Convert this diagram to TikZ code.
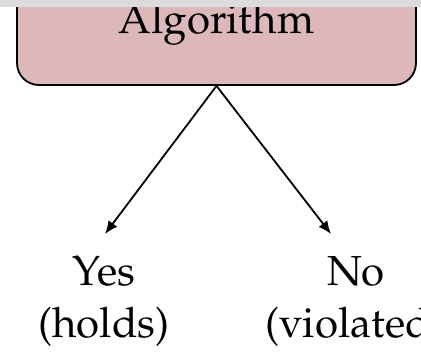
\documentclass[tikz,border=0pt]{standalone}
\usepackage[T1]{fontenc}
\usepackage{mathpazo}
\usetikzlibrary{arrows.meta}
\definecolor{boxpink}{HTML}{DCB8BB}
\definecolor{bandgray}{HTML}{DCDCDC}
\tikzset{
  algbox/.style={draw=black, line width=1.8pt, fill=boxpink, rounded corners=22pt,
    minimum width=399pt, minimum height=125pt, inner sep=0pt},
  bigtext/.style={font=\fontsize{42}{52}\selectfont, inner sep=0pt, anchor=base},
  arr/.style={line width=1.8pt, -{Latex[length=13pt,width=11pt]}},
}
\begin{document}
\begin{tikzpicture}[x=1pt,y=-1pt]
\useasboundingbox (0,0) rectangle (421,354);
\clip (0,0) rectangle (421,354);
\fill[white] (0,0) rectangle (421,354);
\node[algbox] (alg) at (216.5,22.5) {};
\node[bigtext] (algtxt) at (216.5,33) {Algorithm};
\coordinate (yt) at (105,234);
\coordinate (nt) at (331,234);
\node[bigtext] (yes) at (104,285) {Yes};
\node[bigtext] (holds) at (104,337) {(holds)};
\node[bigtext] (no) at (356,285) {No};
\node[bigtext] (viol) at (355,337) {(violated)};
\draw[arr] (alg.south) -- (yt);
\draw[arr] (alg.south) -- (nt);
\fill[bandgray] (0,0) rectangle (421,7);
\end{tikzpicture}
\end{document}
